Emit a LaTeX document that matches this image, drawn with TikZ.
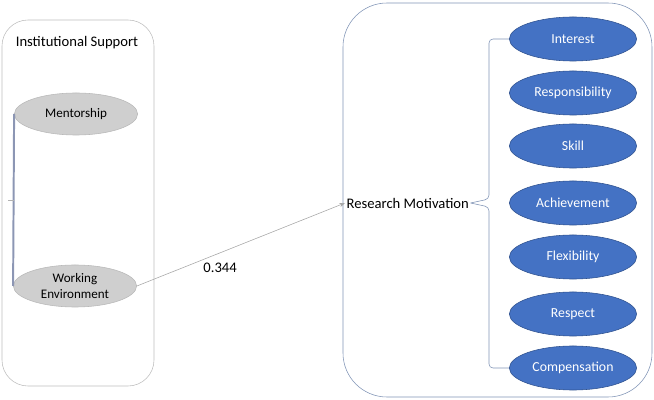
\documentclass[tikz,border=0pt]{standalone}
\usepackage{fontspec}
\setmainfont{Carlito}
\usetikzlibrary{shapes.geometric,arrows.meta,positioning,calc}
\definecolor{office-blue}{HTML}{4472C4}
\definecolor{office-edge}{HTML}{2F528F}
\definecolor{box-grey}{HTML}{BFBFBF}
\definecolor{box-blue}{HTML}{7F93B5}
\definecolor{bracket-grey}{HTML}{8C96B4}

\tikzset{
    factor/.style={ellipse, draw=gray!55, fill=gray!38, inner sep=0pt,
        minimum width=3.08cm, minimum height=1.05cm, align=center, font=\fontsize{9.3}{11}\selectfont},
    indicator/.style={ellipse, draw=office-edge, fill=office-blue, text=white, inner sep=0pt,
        minimum width=3.18cm, minimum height=1.1cm, font=\fontsize{9.8}{11}\selectfont},
    label/.style={font=\fontsize{10.4}{12}\selectfont, inner sep=1pt},
    panel/.style={rounded corners=0.65cm},
    brace/.style={box-blue, rounded corners=0.1cm}
}

\begin{document}
\begin{tikzpicture}[x=0.025cm, y=-0.025cm]
    \useasboundingbox (0,0) rectangle (654,400);

    % Left panel
    \draw[panel, box-grey] (2,20) rectangle (154,386);
    \node[label] (inst) at (77,43) {Institutional Support};
    \node[factor] (ment) at (76,114) {Mentorship};
    \node[factor] (work) at (75,286) {Working\\Environment};

    % Bracket of the left panel
    \coordinate (lmid) at ($(ment.west)!0.5!(work.west)$);
    \coordinate (ltick) at ([xshift=-0.13cm]lmid);
    \draw[bracket-grey, line width=1.4pt] (ment.west) -- (work.west);
    \draw[gray!60] (lmid) -- (ltick);

    % Right panel
    \draw[panel, box-blue, rounded corners=1.1cm] (343,3) rectangle (652,397);
    \node[label, anchor=west] (rm) at (345,203) {Research Motivation};

    % Indicators
    \node[indicator] (int) at (573,39) {Interest};
    \node[indicator] (resp) at (573,93) {Responsibility};
    \node[indicator] (skill) at (573,146) {Skill};
    \node[indicator] (ach) at (573,203) {Achievement};
    \node[indicator] (flex) at (573,257) {Flexibility};
    \node[indicator] (rsp) at (573,314) {Respect};
    \node[indicator] (comp) at (573,368) {Compensation};

    % Brace of the right panel
    \draw[brace] (int.west) -| (489,199) -- (rm.east);
    \draw[brace] (rm.east) -- (489,207) |- (comp.west);

    % Path
    \draw[gray!70, -{Stealth[length=4pt,width=3pt]}] (work.east) -- (rm.west)
        node[pos=0.4, below=0.22cm, label, text=black] (coef) {0.344};
\end{tikzpicture}
\end{document}
